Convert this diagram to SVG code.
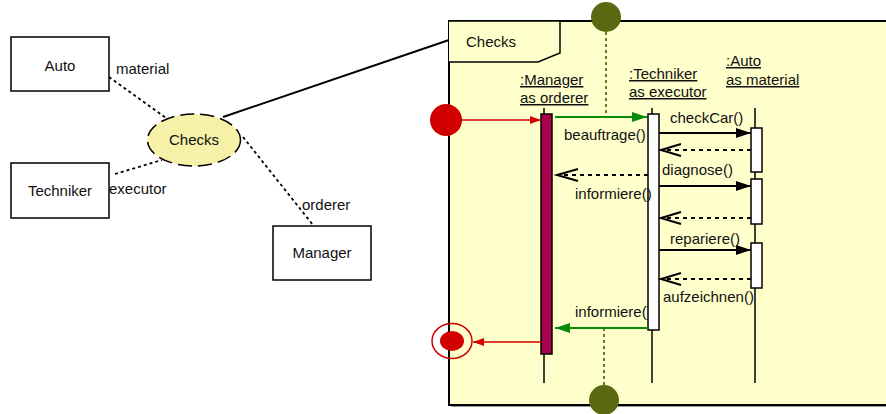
<svg xmlns="http://www.w3.org/2000/svg" width="886" height="414" viewBox="0 0 886 414">
<style>
text{font-family:"Liberation Sans",Arial,sans-serif;font-size:15px;fill:#111}
.box{fill:#fff;stroke:#000;stroke-width:1.5}
.dot{stroke:#000;stroke-width:1.8;stroke-dasharray:3,3;fill:none}
.life{stroke:#000;stroke-width:1.5}
.msg{stroke:#000;stroke-width:1.8;fill:none}
.ret{stroke:#000;stroke-width:1.8;stroke-dasharray:4,4;fill:none}
.open{stroke:#000;stroke-width:2;fill:none}
.ul{text-decoration:underline}
.olive{fill:#5b6a12}
.olivedot{stroke:#6b7a1e;stroke-width:2;stroke-dasharray:3,3}
</style>
<defs>
<marker id="fill" markerWidth="15" markerHeight="10" refX="15" refY="5" orient="auto" markerUnits="userSpaceOnUse"><path d="M0,0 L15,5 L0,10 Z" fill="#000"/></marker>
<marker id="green" markerWidth="15" markerHeight="10" refX="15" refY="5" orient="auto" markerUnits="userSpaceOnUse"><path d="M0,0 L15,5 L0,10 Z" fill="#0a8a0a"/></marker>
<marker id="red" markerWidth="11" markerHeight="8" refX="11" refY="4" orient="auto" markerUnits="userSpaceOnUse"><path d="M0,0 L11,4 L0,8 Z" fill="#d40000"/></marker>
</defs>

<!-- left side: class diagram -->
<g id="connectors-left">
<line class="dot" x1="109" y1="77" x2="166" y2="118"/>
<line class="dot" x1="115" y1="174" x2="162" y2="160"/>
<line class="dot" x1="243" y1="137" x2="313" y2="225"/>
<line x1="223" y1="117" x2="449" y2="40" stroke="#000" stroke-width="2"/>
</g>
<g id="node-auto"><rect class="box" x="11" y="37" width="98" height="54"/><text x="60" y="71" text-anchor="middle">Auto</text></g>
<g id="node-techniker"><rect class="box" x="11" y="163" width="98" height="55"/><text x="60" y="196" text-anchor="middle">Techniker</text></g>
<g id="node-manager"><rect class="box" x="273" y="226" width="98" height="54"/><text x="322" y="258" text-anchor="middle">Manager</text></g>
<g id="node-checks"><ellipse cx="194" cy="140" rx="46.5" ry="26" fill="#f7f0a8" stroke="#000" stroke-width="1.5" stroke-dasharray="14,6"/><text x="194" y="145" text-anchor="middle">Checks</text></g>
<g id="role-labels">
<text x="116" y="74">material</text>
<text x="109" y="194">executor</text>
<text x="302" y="210">orderer</text>
</g>

<!-- right side: sequence frame -->
<g id="frame">
<rect x="451" y="23" width="450" height="384" fill="#999"/>
<rect x="449" y="21" width="450" height="384" fill="#ffffcc" stroke="#000" stroke-width="2"/>
<path d="M449,21 L560,21 L560,53 L538,62 L449,62" fill="#ffffcc" stroke="#000" stroke-width="1.5"/>
<text x="466" y="47">Checks</text>
</g>

<g id="gates">
<line class="olivedot" x1="606" y1="32" x2="606" y2="117"/>
<circle class="olive" cx="606" cy="17" r="15"/>
<line class="olivedot" x1="604" y1="328" x2="604" y2="386"/>
<circle class="olive" cx="604" cy="400" r="15"/>
</g>

<g id="lifeline-manager">
<text class="ul" x="520" y="85">:Manager</text>
<text class="ul" x="520" y="103">as orderer</text>
<line class="life" x1="544" y1="108" x2="544" y2="383"/>
</g>
<g id="lifeline-techniker">
<text class="ul" x="629" y="79">:Techniker</text>
<text class="ul" x="629" y="97">as executor</text>
<line class="life" x1="652" y1="108" x2="652" y2="383"/>
</g>
<g id="lifeline-auto">
<text class="ul" x="726" y="66">:Auto</text>
<text class="ul" x="726" y="85">as material</text>
<line class="life" x1="755" y1="108" x2="755" y2="383"/>
</g>

<text x="575" y="317">informiere()</text>

<g id="activations">
<rect x="541" y="114" width="11" height="240" fill="#a8004a" stroke="#000" stroke-width="1.5"/>
<rect x="648" y="114" width="11" height="216" fill="#fff" stroke="#000" stroke-width="1.5"/>
<rect x="751" y="128" width="11" height="44" fill="#fff" stroke="#000" stroke-width="1.5"/>
<rect x="751" y="179" width="11" height="45" fill="#fff" stroke="#000" stroke-width="1.5"/>
<rect x="751" y="243" width="11" height="45" fill="#fff" stroke="#000" stroke-width="1.5"/>
</g>

<g id="start-node"><circle cx="446" cy="120" r="16" fill="#d00000"/></g>
<g id="end-node">
<ellipse cx="452" cy="341" rx="20" ry="17.5" fill="none" stroke="#d00000" stroke-width="1.5"/>
<ellipse cx="452" cy="341" rx="12" ry="10" fill="#d00000"/>
</g>

<g id="connectors">
<line x1="462" y1="120" x2="541" y2="120" stroke="#d40000" stroke-width="1.5" marker-end="url(#red)"/>
<line x1="555" y1="117" x2="647" y2="117" stroke="#0a8a0a" stroke-width="2" marker-end="url(#green)"/>
<line class="msg" x1="659" y1="133" x2="751" y2="133" marker-end="url(#fill)"/>
<line class="ret" x1="751" y1="150" x2="662" y2="150"/>
<path class="open" d="M681,144 L661,150 L681,156"/>
<line class="ret" x1="648" y1="175" x2="558" y2="175"/>
<path class="open" d="M578,169 L557,175 L578,181"/>
<line class="msg" x1="659" y1="186" x2="751" y2="186" marker-end="url(#fill)"/>
<line class="ret" x1="751" y1="218" x2="662" y2="218"/>
<path class="open" d="M681,212 L661,218 L681,224"/>
<line class="msg" x1="659" y1="250" x2="751" y2="250" marker-end="url(#fill)"/>
<line class="ret" x1="751" y1="279" x2="662" y2="279"/>
<path class="open" d="M681,273 L661,279 L681,285"/>
<line x1="648" y1="328" x2="555" y2="328" stroke="#0a8a0a" stroke-width="2" marker-end="url(#green)"/>
<line x1="541" y1="342" x2="473" y2="342" stroke="#d40000" stroke-width="1.5" marker-end="url(#red)"/>
</g>

<g id="message-labels">
<text x="564" y="140">beauftrage()</text>
<text x="670" y="123">checkCar()</text>
<text x="575" y="199">informiere()</text>
<text x="662" y="175">diagnose()</text>
<text x="670" y="244">repariere()</text>
<text x="663" y="302">aufzeichnen()</text>
</g>
</svg>
